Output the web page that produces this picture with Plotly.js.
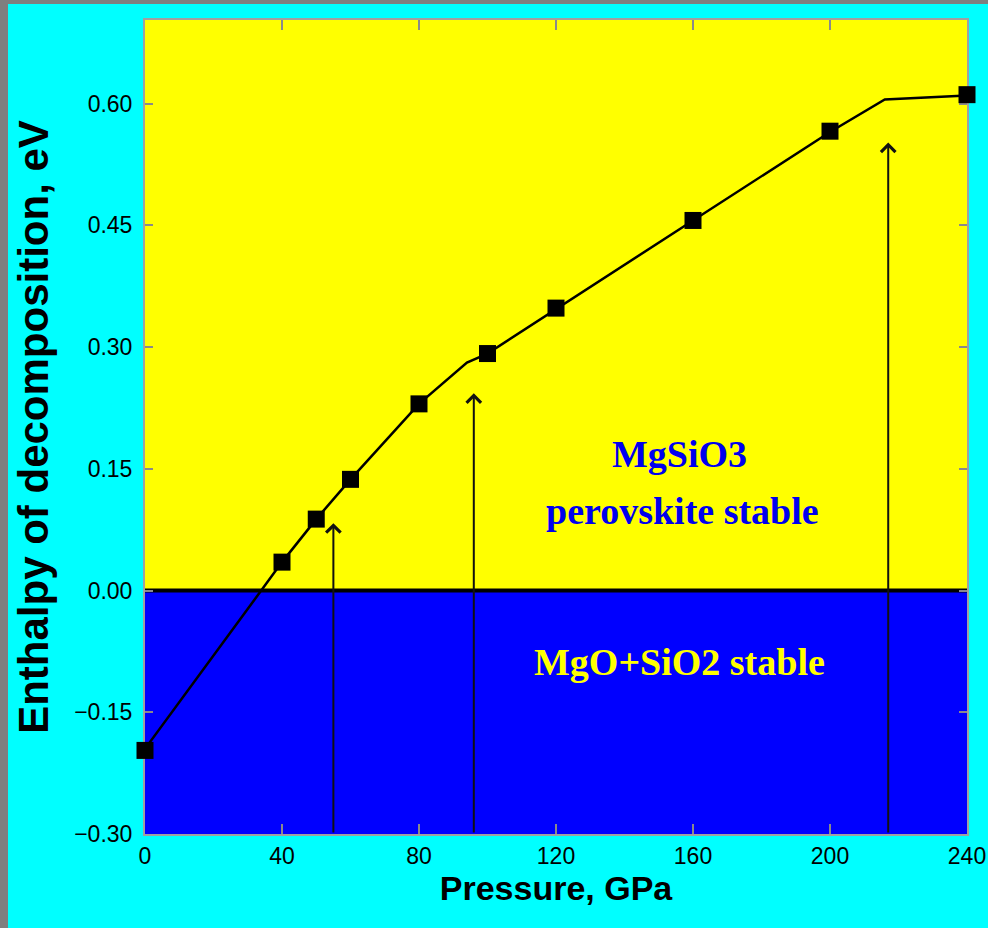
<!DOCTYPE html>
<html>
<head>
<meta charset="utf-8">
<script src="https://cdn.plot.ly/plotly-3.0.1.min.js"></script>
<style>
  html, body { margin: 0; padding: 0; background: #7f7f7f; width: 988px; height: 928px; overflow: hidden; }
  #chart { position: absolute; left: 8px; top: 4px; width: 980px; height: 924px; }
</style>
</head>
<body>
<div id="chart"></div>
<script>
// Computed points (pressure GPa, enthalpy of decomposition eV)
const pressure = [0, 40, 50, 60, 80, 100, 120, 160, 200, 240];
const enthalpy = [-0.197, 0.035, 0.088, 0.137, 0.230, 0.292, 0.348, 0.456, 0.566, 0.611];

// Fitted piecewise line through the points
const fitPressure = [0, 40, 50, 60, 80, 94, 100, 120, 160, 200, 216, 240];
const fitEnthalpy = [-0.195, 0.035, 0.088, 0.137, 0.230, 0.281, 0.292, 0.347, 0.456, 0.565, 0.605, 0.610];

// Arrows: phase transition pressures and tip heights
const arrowPressure = [55, 96, 217];
const arrowTip = [0.083, 0.243, 0.552];

// Tick values
const xTicks = [0, 40, 80, 120, 160, 200, 240];
const yTicks = [-0.30, -0.15, 0.00, 0.15, 0.30, 0.45, 0.60];

// Region labels
const regionLabels = ["MgSiO3", "perovskite stable", "MgO+SiO2 stable"];
const regionX = [156, 157, 156];
const regionY = [0.168, 0.098, -0.088];
const regionColors = ["#0000ee", "#0000ee", "#ffff00"];

const yTop = 0.703, yBottom = -0.30;

const traces = [
  {
    x: fitPressure, y: fitEnthalpy, type: 'scatter', mode: 'lines',
    line: {color: '#000000', width: 2.5}, hoverinfo: 'skip', showlegend: false,
    cliponaxis: false
  },
  {
    x: pressure, y: enthalpy, type: 'scatter', mode: 'markers',
    marker: {symbol: 'square', size: 17, color: '#000000', line: {width: 0}},
    showlegend: false, cliponaxis: false
  }
];

const annotations = [];
arrowPressure.forEach((p, i) => {
  annotations.push({
    x: p, y: arrowTip[i], xref: 'x', yref: 'y',
    ax: p, ay: yBottom, axref: 'x', ayref: 'y',
    text: '', showarrow: true, arrowhead: 4, arrowsize: 1.4, arrowwidth: 2,
    arrowcolor: '#111111', standoff: 0, startstandoff: 0
  });
});
regionLabels.forEach((t, i) => {
  annotations.push({
    x: regionX[i], y: regionY[i], xref: 'x', yref: 'y',
    text: '<b>' + t + '</b>', showarrow: false,
    xanchor: 'center', yanchor: 'middle',
    font: {family: '"Liberation Serif", "Times New Roman", serif', size: 38, color: regionColors[i]}
  });
});

const layout = {
  width: 980, height: 924,
  paper_bgcolor: '#00ffff', plot_bgcolor: '#0000ff',
  margin: {l: 137, r: 21, t: 16, b: 94},
  showlegend: false,
  font: {family: '"Liberation Sans", Arial, sans-serif', color: '#000000'},
  xaxis: {
    range: [0, 240], tickvals: xTicks, ticktext: xTicks.map(String),
    ticks: 'inside', ticklen: 10, tickwidth: 2, tickcolor: '#8a8a8a',
    showline: true, linecolor: '#a0a0a0', linewidth: 2, mirror: 'ticks',
    showgrid: false, zeroline: false, automargin: false, layer: 'below traces',
    tickfont: {size: 23, color: '#000000'},
    title: {text: '<b>Pressure, GPa</b>', font: {size: 34, color: '#000000'}, standoff: 6}
  },
  yaxis: {
    range: [yBottom, yTop], tickvals: yTicks, tickformat: '.2f',
    ticks: 'inside', ticklen: 8, tickwidth: 2, tickcolor: '#8a8a8a',
    showline: true, linecolor: '#a0a0a0', linewidth: 2, mirror: 'ticks',
    showgrid: false, zeroline: false, automargin: false, layer: 'below traces',
    ticklabelstandoff: 6,
    tickfont: {size: 23, color: '#000000'},
    title: {text: '<b>Enthalpy of decomposition, eV</b>', font: {size: 42, color: '#000000'}, standoff: 12}
  },
  shapes: [
    {type: 'rect', xref: 'paper', yref: 'y', x0: 0, x1: 1, y0: 0, y1: yTop,
     fillcolor: '#ffff00', line: {width: 0}, layer: 'below'},
    {type: 'rect', xref: 'paper', yref: 'y', x0: 0, x1: 1, y0: yBottom, y1: 0,
     fillcolor: '#0000ff', line: {width: 0}, layer: 'below'},
    {type: 'line', xref: 'paper', yref: 'y', x0: 0, x1: 1, y0: 0, y1: 0,
     line: {color: '#000000', width: 4}, layer: 'below'}
  ],
  annotations: annotations
};

Plotly.newPlot('chart', traces, layout, {displayModeBar: false, staticPlot: true});
</script>
</body>
</html>
